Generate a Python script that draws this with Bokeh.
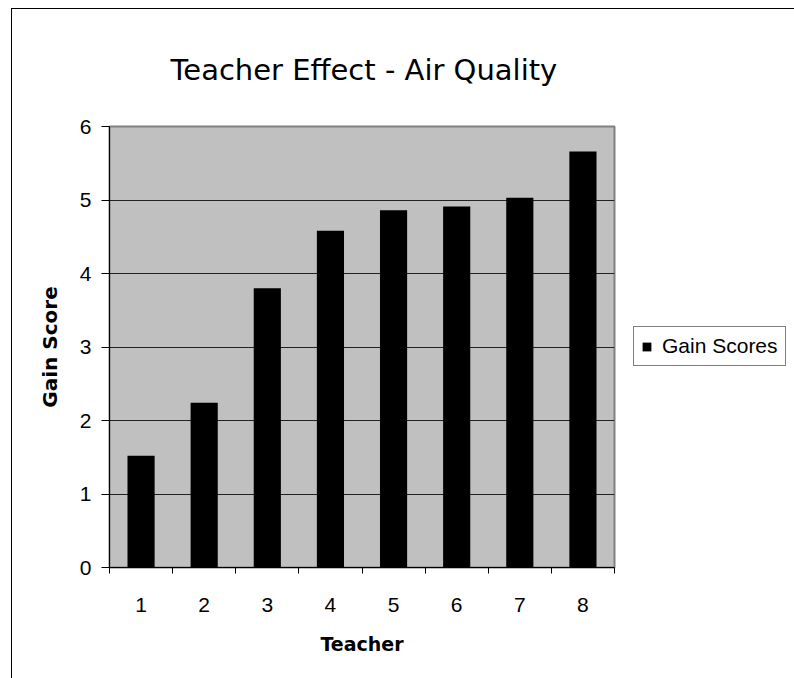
from bokeh.plotting import figure
from bokeh.models import (Range1d, FixedTicker, Title, Legend, LegendItem)
from bokeh.embed import file_html
from bokeh.resources import INLINE

teachers = [1, 2, 3, 4, 5, 6, 7, 8]
gain_scores = [1.52, 2.24, 3.80, 4.58, 4.86, 4.91, 5.03, 5.66]
y_ticks = [0, 1, 2, 3, 4, 5, 6]
title_text = "Teacher Effect - Air Quality"
series_name = "Gain Scores"
x_label = "Teacher"
y_label = "Gain Score"

p = figure(frame_width=505, frame_height=441, output_backend="svg",
           toolbar_location=None,
           x_range=Range1d(0.5, 8.5), y_range=Range1d(0, 6),
           min_border_left=97, min_border_right=170, min_border_top=117,
           min_border_bottom=111)
p.styles = {"border-left": "1px solid black", "border-top": "1px solid black",
            "margin-left": "11px", "margin-top": "8px"}

p.background_fill_color = "#C0C0C0"
p.border_fill_color = "white"
p.outline_line_color = "#808080"
p.outline_line_width = 2

r = p.vbar(x=teachers, top=gain_scores, width=0.43, fill_color="black",
           line_color=None)

# grid
p.xgrid.visible = False
p.ygrid.ticker = FixedTicker(ticks=y_ticks[1:-1])
p.ygrid.grid_line_color = "#222222"
p.ygrid.grid_line_width = 1

# x axis
xa = p.xaxis[0]
xa.ticker = FixedTicker(ticks=teachers,
                        minor_ticks=[t - 0.5 for t in teachers] + [teachers[-1] + 0.5])
xa.major_tick_out = 0
xa.major_tick_in = 0
xa.minor_tick_out = 6
xa.minor_tick_in = 0
xa.minor_tick_line_color = "black"
xa.axis_line_color = "black"
xa.major_label_text_font = "Liberation Sans"
xa.major_label_text_font_size = "21px"
xa.major_label_text_color = "black"
xa.major_label_standoff = 24
xa.axis_label = x_label
xa.axis_label_text_font = "DejaVu Sans"
xa.axis_label_text_font_size = "19px"
xa.axis_label_text_font_style = "bold"
xa.axis_label_text_color = "black"
xa.axis_label_standoff = 18

# y axis
ya = p.yaxis[0]
ya.ticker = FixedTicker(ticks=y_ticks)
ya.major_tick_out = 8
ya.major_tick_in = 0
ya.minor_tick_out = 0
ya.minor_tick_in = 0
ya.axis_line_color = "black"
ya.major_label_text_font = "Liberation Sans"
ya.major_label_text_font_size = "21px"
ya.major_label_text_color = "black"
ya.major_label_standoff = 10
ya.axis_label = y_label
ya.axis_label_text_font = "DejaVu Sans"
ya.axis_label_text_font_size = "20px"
ya.axis_label_text_font_style = "bold"
ya.axis_label_text_color = "black"
ya.axis_label_standoff = 15

# title
title = Title(text=title_text, align="left", offset=61, standoff=80,
              vertical_align="bottom",
              text_font="DejaVu Sans", text_font_size="29px",
              text_font_style="normal", text_color="black")
p.add_layout(title, "above")

# legend
legend = Legend(items=[LegendItem(label=series_name, renderers=[r])],
                location=(19, 201), orientation="vertical")
legend.margin = 0
legend.padding = 7
legend.glyph_width = 11
legend.glyph_height = 11
legend.label_standoff = 10
legend.label_text_font = "Liberation Sans"
legend.label_text_font_size = "21px"
legend.label_text_color = "black"
legend.border_line_color = "black"
legend.border_line_width = 1
legend.background_fill_color = "white"
legend.background_fill_alpha = 1
p.add_layout(legend, "right")

open("out.html", "w").write(file_html(p, INLINE))
